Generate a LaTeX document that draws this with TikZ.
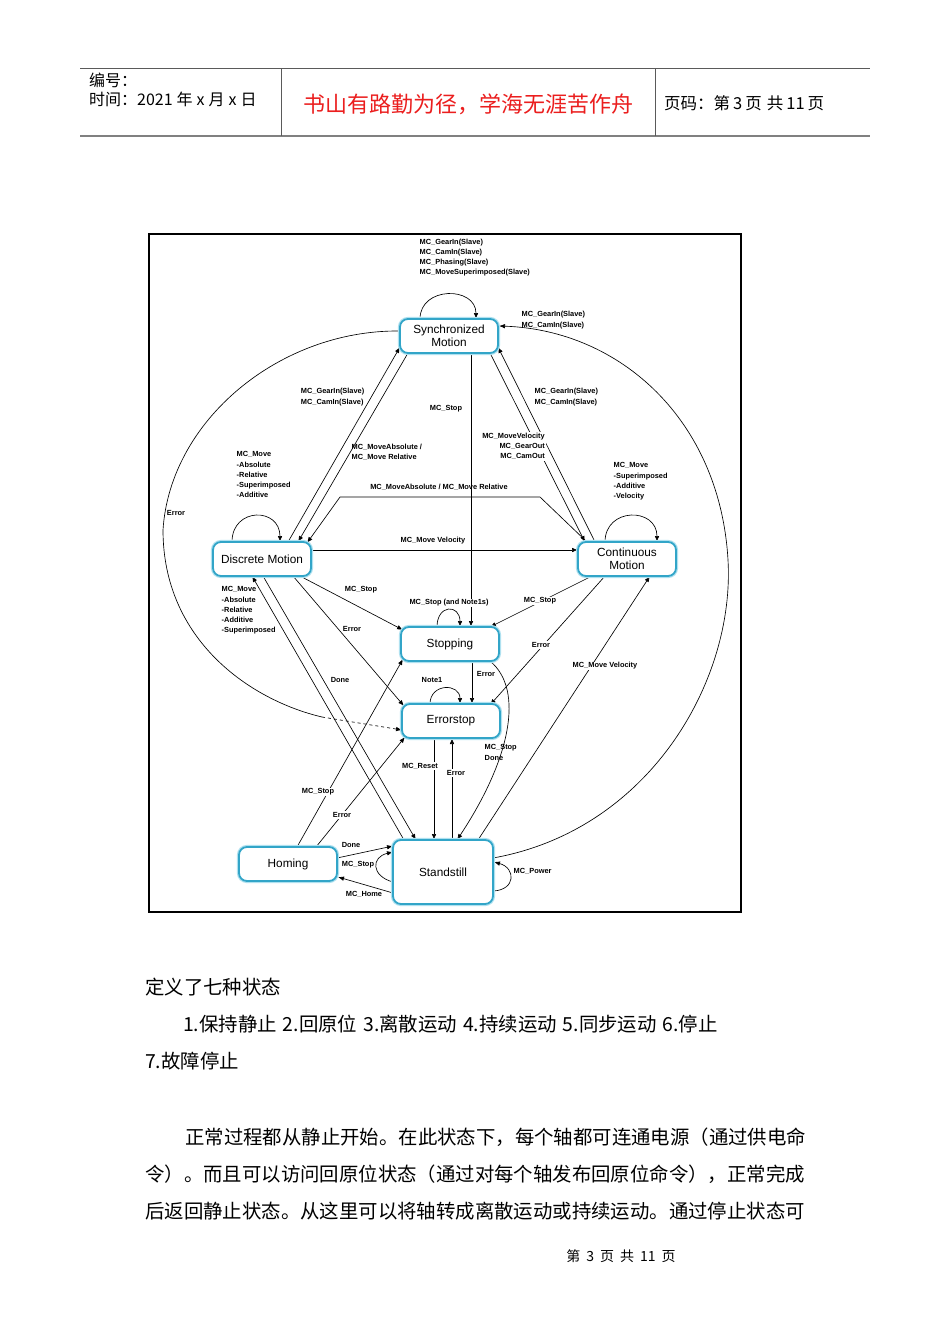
\documentclass[tikz,border=0pt]{standalone}
\usepackage{fontspec}
\setmainfont{Liberation Sans}
\newfontfamily\cjk{Noto Sans CJK SC}
\usetikzlibrary{arrows.meta,calc}
\pgfdeclarelayer{bgzero}
\pgfdeclarelayer{lines}
\pgfsetlayers{bgzero,lines,main}
\definecolor{stc}{RGB}{50,165,200}
\definecolor{stl}{RGB}{175,225,240}
\definecolor{redt}{RGB}{235,30,30}
\definecolor{hdr}{RGB}{90,90,90}
\begin{document}
\begin{tikzpicture}[x=1pt,y=-1pt,
  stbox/.style={draw=stc, line width=1.8pt, rounded corners=8pt, fill=white,
    minimum width=98pt, minimum height=34pt, align=center,
    font=\fontsize{11.8}{12.8}\selectfont, inner sep=1pt,
    preaction={draw=stl, line width=4.2pt}},
  lbl/.style={font=\fontsize{7.4}{10.2}\selectfont\bfseries, inner sep=0.5pt, align=left},
  wl/.style={lbl, fill=white, inner sep=1pt},
  conn/.style={-{Latex[length=6pt,width=4.5pt]}, line width=0.65pt},
  pl/.style={line width=0.65pt},
  cjkt/.style={font=\cjk\fontsize{19.4}{20}\selectfont, inner sep=0pt, anchor=west},
]
\begin{pgfonlayer}{bgzero}
\fill[white] (0,0) rectangle (950,1344);
\end{pgfonlayer}
\useasboundingbox (0,0) rectangle (950,1344);

% ---------- header ----------
\draw[line width=0.8pt, hdr] (80,68) -- (870,68);
\draw[line width=1.6pt, gray] (80,136) -- (870,136);
\draw[line width=0.8pt, hdr] (281,68) -- (281,136);
\draw[line width=0.8pt, hdr] (655,68) -- (655,136);
\node[anchor=west, inner sep=0pt, font=\cjk\fontsize{16}{17}\selectfont] (h1) at (89,80) {编号：};
\node[anchor=west, inner sep=0pt, font=\cjk\fontsize{16}{17}\selectfont] (h2) at (89,99) {时间：2021\hspace{4pt}年\hspace{4pt}x\hspace{4pt}月\hspace{4pt}x\hspace{4pt}日};
\node[inner sep=0pt, font=\cjk\fontsize{22}{24}\selectfont, text=redt] (title) at (468,104) {书山有路勤为径，学海无涯苦作舟};
\node[anchor=west, inner sep=0pt, font=\cjk\fontsize{16.5}{17}\selectfont] (pg) at (664,103) {页码：第\hspace{3pt}3\hspace{3pt}页\hspace{5pt}共\hspace{3pt}11\hspace{3pt}页};

% ---------- diagram frame ----------
\draw[line width=1.8pt] (149,234) rectangle (741,912);

% ---------- states ----------
\node[stbox] (sync) at (449,336) {Synchronized\\Motion};
\node[stbox] (disc) at (262,559) {Discrete Motion};
\node[stbox] (cont) at (627,559) {Continuous\\Motion};
\node[stbox] (stop) at (450,644) {Stopping};
\node[stbox] (err) at (451,721) {Errorstop};
\node[stbox] (home) at (288,864) {Homing};
\node[stbox, minimum width=100pt, minimum height=64pt] (stand) at (443,872) {Standstill};

\begin{pgfonlayer}{lines}
% sync self loop
\draw[conn] ($(sync)+(-29,-17)$) .. controls ($(sync)+(-29,-50)$) and ($(sync)+(27,-50)$) .. ($(sync)+(27,-17)$);
% big right curve standstill -> sync
\draw[conn] ($(stand)+(50,-14)$) .. controls (650,830) and (735,680) .. (728,560)
  .. controls (720,420) and (620,330) .. ($(sync)+(50,-10)$);
% big left curve sync -> errorstop
\coordinate (lc) at (322,717);
\draw[pl] ($(sync)+(-50,-5)$) .. controls (280,330) and (170,420) .. (163,530)
  .. controls (163,640) and (250,700) .. (lc);
\draw[conn, dashed] (lc) -- ($(err)+(-49,9)$);
% sync <-> discrete
\draw[conn] ($(disc)+(26,-17)$) -- ($(sync)+(-49,11)$);
\draw[conn] ($(sync)+(-41,17)$) -- ($(disc)+(36,-17)$);
% sync <-> continuous
\draw[conn] ($(sync)+(41,17)$) -- ($(cont)+(-42,-17)$);
\draw[conn] ($(cont)+(-32,-17)$) -- ($(sync)+(49,11)$);
% sync -> stopping
\draw[conn] ($(sync)+(22,17)$) -- ($(stop)+(21,-17)$);
% discrete -> continuous
\draw[conn] ($(disc)+(49,-9)$) -- ($(cont)+(-49,-9)$);
% continuous -> discrete (trapezoid)
\draw[conn] ($(cont)+(-40,-17)$) -- ++(-47,-45) -- ++(-200,0) -- ($(disc)+(45,-16)$);
% discrete self loop
\draw[conn] ($(disc)+(-30,-17)$) .. controls ($(disc)+(-30,-52)$) and ($(disc)+(18,-52)$) .. ($(disc)+(18,-17)$);
% continuous self loop
\draw[conn] ($(cont)+(-22,-17)$) .. controls ($(cont)+(-22,-52)$) and ($(cont)+(30,-52)$) .. ($(cont)+(30,-17)$);
% discrete -> stopping
\draw[conn] ($(disc)+(38,17)$) -- ($(stop)+(-47,-14)$);
% discrete -> errorstop
\draw[conn] ($(disc)+(31,17)$) -- ($(err)+(-47,-15)$);
% standstill <-> discrete
\draw[conn] ($(stand)+(-39,-32)$) -- ($(disc)+(-10,17)$);
\draw[conn] ($(disc)+(1,17)$) -- ($(stand)+(-27,-32)$);
% continuous -> stopping
\draw[conn] ($(cont)+(-35,17)$) -- ($(stop)+(40,-17)$);
% continuous -> errorstop
\draw[conn] ($(cont)+(-22,17)$) -- ($(err)+(39,-16)$);
% standstill -> continuous
\draw[conn] ($(stand)+(35,-32)$) -- ($(cont)+(23,17)$);
% stopping self loop
\draw[conn] ($(stop)+(-13,-17)$) .. controls ($(stop)+(-13,-40)$) and ($(stop)+(10,-40)$) .. ($(stop)+(10,-17)$);
% stopping -> errorstop
\draw[conn] ($(stop)+(22,17)$) -- ($(err)+(21,-17)$);
% errorstop self loop
\draw[conn] ($(err)+(-21,-17)$) .. controls ($(err)+(-21,-38)$) and ($(err)+(9,-38)$) .. ($(err)+(9,-17)$);
% stopping -> standstill
\draw[conn] ($(stop)+(40,17)$) .. controls (525,690) and (510,760) .. ($(stand)+(14,-32)$);
% errorstop -> standstill
\draw[conn] ($(err)+(-17,17)$) -- ($(stand)+(-9,-32)$);
% standstill -> errorstop
\draw[conn] ($(stand)+(9,-32)$) -- ($(err)+(1,17)$);
% homing -> stopping
\draw[conn] ($(home)+(9,-17)$) -- ($(stop)+(-47,15)$);
% homing -> errorstop
\draw[conn] ($(home)+(28,-17)$) -- ($(err)+(-46,16)$);
% homing -> standstill
\draw[conn] ($(home)+(49,-6)$) -- ($(stand)+(-50,-26)$);
% standstill -> homing
\draw[conn] ($(stand)+(-50,21)$) -- ($(home)+(50,13)$);
% standstill left loop
\draw[conn] ($(stand)+(-50,10)$) .. controls (371,876) and (371,857) .. ($(stand)+(-50,-20)$);
% standstill right loop
\draw[conn] ($(stand)+(50,19)$) .. controls (516,890) and (516,868) .. ($(stand)+(51,-10)$);
\end{pgfonlayer}

% ---------- labels ----------
\node[lbl, anchor=north west] (l1) at (419,238) {MC\_GearIn(Slave)\\MC\_CamIn(Slave)\\MC\_Phasing(Slave)\\MC\_MoveSuperimposed(Slave)};
\node[lbl, anchor=west] (l2) at (521,320) {MC\_GearIn(Slave)\\MC\_CamIn(Slave)};
\node[lbl, anchor=east] (l3) at (365,397) {MC\_GearIn(Slave)\\MC\_CamIn(Slave)};
\node[lbl, anchor=west] (l4) at (534,397) {MC\_GearIn(Slave)\\MC\_CamIn(Slave)};
\node[lbl] (l5) at (446,409) {MC\_Stop};
\node[lbl, anchor=west] (l6) at (351,452) {MC\_MoveAbsolute /\\MC\_Move Relative};
\node[wl, anchor=north east, align=right] (l7) at (546,432) {MC\_MoveVelocity\\MC\_GearOut\\MC\_CamOut};
\node[lbl] (l8) at (439,487) {MC\_MoveAbsolute / MC\_Move Relative};
\node[lbl, anchor=north west] (l9) at (236,451) {MC\_Move\\-Absolute\\-Relative\\-Superimposed\\-Additive};
\node[lbl, anchor=north west] (l10) at (613,462) {MC\_Move\\-Superimposed\\-Additive\\-Velocity};
\node[lbl] (l11) at (176,513) {Error};
\node[lbl] (l12) at (433,541) {MC\_Move Velocity};
\node[lbl] (l13) at (361,590) {MC\_Stop};
\node[wl, inner sep=0.5pt] (l14) at (449,603) {MC\_Stop (and Note1s)};
\node[wl] (l15) at (540,601) {MC\_Stop};
\node[lbl, anchor=north west] (l16) at (221,586) {MC\_Move\\-Absolute\\-Relative\\-Additive\\-Superimposed};
\node[lbl] (l17) at (352,629) {Error};
\node[wl] (l18) at (541,645) {Error};
\node[wl] (l19) at (605,666) {MC\_Move Velocity};
\node[lbl] (l20) at (486,674) {Error};
\node[lbl] (l21) at (432,680) {Note1};
\node[lbl] (l22) at (340,680) {Done};
\node[lbl, anchor=north west] (l23) at (484,744) {MC\_Stop\\Done};
\node[wl] (l24) at (420,766) {MC\_Reset};
\node[wl] (l25) at (456,773) {Error};
\node[wl] (l26) at (318,792) {MC\_Stop};
\node[wl] (l27) at (342,815) {Error};
\node[lbl] (l28) at (351,845) {Done};
\node[lbl] (l29) at (358,865) {MC\_Stop};
\node[lbl] (l30) at (364,894) {MC\_Home};
\node[lbl, anchor=west] (l31) at (513,871) {MC\_Power};

% ---------- body text ----------
\node[cjkt] (t1) at (145,987) {定义了七种状态};
\node[cjkt] (t2) at (183,1024) {1.保持静止\hspace{6pt}2.回原位\hspace{6pt}3.离散运动\hspace{6pt}4.持续运动\hspace{6pt}5.同步运动\hspace{6pt}6.停止};
\node[cjkt] (t3) at (145,1061) {7.故障停止};
\node[cjkt] (p1) at (185,1137) {正常过程都从静止开始。在此状态下，每个轴都可连通电源（通过供电命};
\node[cjkt] (p2) at (145,1174) {令）。而且可以访问回原位状态（通过对每个轴发布回原位命令），正常完成};
\node[cjkt] (p3) at (145,1211) {后返回静止状态。从这里可以将轴转成离散运动或持续运动。通过停止状态可};
\node[font=\cjk\fontsize{14}{15}\selectfont, inner sep=0pt] (ft) at (621,1256) {第\hspace{6pt}3\hspace{6pt}页\hspace{6pt}共\hspace{6pt}11\hspace{6pt}页};
\end{tikzpicture}
\end{document}
